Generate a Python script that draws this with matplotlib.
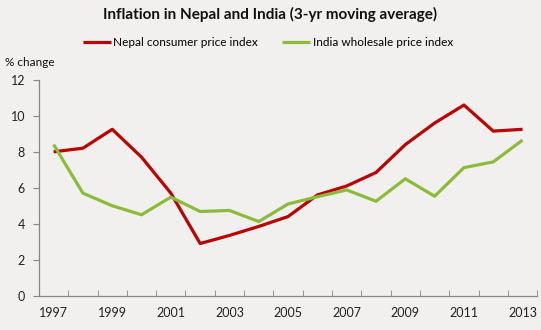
import numpy as np
import matplotlib
matplotlib.use('Agg')
import matplotlib.pyplot as plt
from matplotlib.ticker import FixedLocator

plt.rcParams['font.family'] = ['Lato', 'DejaVu Sans']

anios = [str(a) for a in range(1997, 2014)]
nepal_ipc = [8.0, 8.2, 9.25, 7.7, 5.7, 2.9, 3.35, 3.85, 4.4, 5.6, 6.1, 6.85, 8.4, 9.6, 10.6, 9.15, 9.25]
india_ipm = [8.4, 5.7, 5.0, 4.5, 5.48, 4.68, 4.74, 4.12, 5.1, 5.5, 5.88, 5.25, 6.5, 5.53, 7.12, 7.44, 8.65]

fondo = '#f1f0ee'
gris = '#868686'

fig = plt.figure(figsize=(5.41, 3.30), dpi=100, facecolor=fondo)
ax = fig.add_axes([0.072, 0.104, 0.921, 0.654], facecolor=fondo)

x = np.arange(len(anios))
l1, = ax.plot(x, nepal_ipc, color='#b80000', linewidth=2.3, solid_capstyle='butt',
              label='Nepal consumer price index')
l2, = ax.plot(x, india_ipm, color='#8cbb3c', linewidth=2.3, solid_capstyle='butt',
              label='India wholesale price index')

ax.set_xlim(-0.5, len(anios) - 0.5)
ax.set_ylim(0, 12)
ax.set_yticks(range(0, 13, 2))
ax.set_xticks(x[::2])
ax.set_xticklabels(anios[::2])
ax.xaxis.set_minor_locator(FixedLocator(np.arange(-0.5, len(anios), 1.0)))
ax.tick_params(axis='x', which='major', length=0, pad=8, labelsize=9, labelcolor='#222222')
ax.tick_params(axis='x', which='minor', direction='in', length=4, color=gris)
ax.tick_params(axis='y', direction='out', length=4, color=gris, labelsize=9,
               labelcolor='#222222', pad=6)

for lado in ['top', 'right']:
    ax.spines[lado].set_visible(False)
for lado in ['left', 'bottom']:
    ax.spines[lado].set_color(gris)
    ax.spines[lado].set_linewidth(0.9)

fig.text(0.5, 1 - 14 / 330, 'Inflation in Nepal and India (3-yr moving average)',
         ha='center', va='center', fontsize=11, fontweight='bold', color='#111111')
fig.text(5 / 541, 1 - 63 / 330, '% change', ha='left', va='center', fontsize=8.5,
         color='#111111')
fig.legend(handles=[l1, l2], loc='center', bbox_to_anchor=(0.495, 1 - 43 / 330), ncol=2,
           frameon=False, fontsize=8.5, handlelength=2.4, handletextpad=0.2,
           columnspacing=2.0)

fig.savefig('out.png', dpi=100, facecolor=fondo)
